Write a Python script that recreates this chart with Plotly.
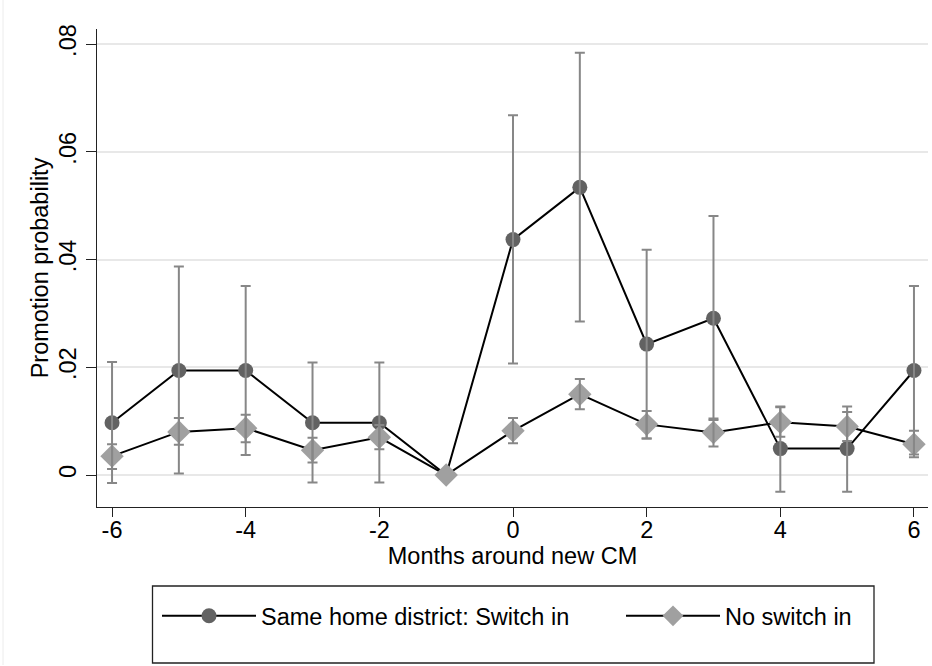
import plotly.graph_objects as go

months = [-6, -5, -4, -3, -2, -1, 0, 1, 2, 3, 4, 5, 6]

same = [0.0097, 0.0194, 0.0194, 0.0097, 0.0097, 0.0, 0.0437, 0.0534, 0.0243, 0.0291, 0.0049, 0.0049, 0.0194]
same_lo = [-0.0015, 0.0003, 0.0037, -0.0014, -0.0014, None, 0.0207, 0.0285, 0.0068, 0.0102, -0.0031, -0.0031, 0.0038]
same_hi = [0.0210, 0.0387, 0.0351, 0.0209, 0.0209, None, 0.0668, 0.0784, 0.0418, 0.0481, 0.0127, 0.0127, 0.0351]

noswitch = [0.0035, 0.0080, 0.0087, 0.0046, 0.0070, 0.0, 0.0082, 0.0150, 0.0094, 0.0079, 0.0098, 0.0090, 0.0057]
no_lo = [0.0011, 0.0056, 0.0061, 0.0023, 0.0048, None, 0.0059, 0.0122, 0.0068, 0.0053, 0.0071, 0.0063, 0.0033]
no_hi = [0.0057, 0.0106, 0.0112, 0.0069, 0.0093, None, 0.0106, 0.0178, 0.0119, 0.0105, 0.0126, 0.0117, 0.0082]

x_ticks = [-6, -4, -2, 0, 2, 4, 6]
y_ticks = [0, 0.02, 0.04, 0.06, 0.08]
y_tick_labels = ["0", ".02", ".04", ".06", ".08"]

FONT = "Liberation Sans, Arial, sans-serif"
FS = 23.5

fig = go.Figure()

fig.add_trace(go.Scatter(
    x=months, y=same, mode="lines+markers",
    name="Same home district: Switch in",
    line=dict(color="black", width=2),
    marker=dict(symbol="circle", size=15, color="#626262"),
    legend="legend",
))
fig.add_trace(go.Scatter(
    x=months, y=noswitch, mode="lines+markers",
    name="No switch in",
    line=dict(color="black", width=2),
    marker=dict(symbol="diamond", size=18, color="#a0a0a0"),
    legend="legend2",
))


def err_trace(center, lo, hi):
    ys, plus, minus = [], [], []
    for c, l, h in zip(center, lo, hi):
        if l is None or h is None:
            ys.append(None)
            plus.append(0)
            minus.append(0)
        else:
            ys.append(c)
            plus.append(h - c)
            minus.append(c - l)
    return go.Scatter(
        x=months, y=ys, mode="markers",
        marker=dict(size=1, opacity=0),
        error_y=dict(type="data", array=plus, arrayminus=minus, symmetric=False,
                     color="#878787", thickness=2, width=5),
        showlegend=False, hoverinfo="skip",
    )


fig.add_trace(err_trace(same, same_lo, same_hi))
fig.add_trace(err_trace(noswitch, no_lo, no_hi))

W, H = 932, 666
L, R, T, B = 97, 4, 29, 159
pw, ph = W - L - R, H - T - B


def px_x(x):
    return (x - L) / pw


def px_y(y):
    return (H - B - y) / ph


fig.update_layout(
    width=W, height=H,
    margin=dict(l=L, r=R, t=T, b=B, pad=0, autoexpand=False),
    paper_bgcolor="white", plot_bgcolor="white",
    font=dict(family=FONT, size=FS, color="black"),
    xaxis=dict(
        range=[-6.225, 6.21], tickvals=x_ticks, ticktext=[str(v) for v in x_ticks],
        showgrid=False, zeroline=False, showline=True, linecolor="#222222", linewidth=1.3,
        ticks="outside", ticklen=9, tickwidth=1.3, tickcolor="#222222",
        tickfont=dict(family=FONT, size=FS), automargin=False, ticklabelstandoff=-7,
        title=dict(text="Months around new CM", font=dict(family=FONT, size=FS), standoff=0),
    ),
    yaxis=dict(
        range=[-0.00594, 0.0828], tickvals=y_ticks, ticktext=y_tick_labels,
        tickangle=-90,
        showgrid=True, gridcolor="#e8e8e8", gridwidth=1.5,
        zeroline=False, showline=True, linecolor="#222222", linewidth=1.3,
        ticks="outside", ticklen=10, tickwidth=1.3, tickcolor="#222222",
        tickfont=dict(family=FONT, size=FS), automargin=False,
        title=dict(text="Promotion probability", font=dict(family=FONT, size=FS), standoff=0),
    ),
    legend=dict(
        orientation="h", x=px_x(157), xanchor="left", y=px_y(616), yanchor="middle",
        bgcolor="rgba(0,0,0,0)", borderwidth=0, itemwidth=94,
        font=dict(family=FONT, size=FS),
    ),
    legend2=dict(
        orientation="h", x=px_x(621), xanchor="left", y=px_y(616), yanchor="middle",
        bgcolor="rgba(0,0,0,0)", borderwidth=0, itemwidth=94,
        font=dict(family=FONT, size=FS),
    ),
    shapes=[
        dict(type="rect", xref="paper", yref="paper",
             x0=px_x(152.5), x1=px_x(874), y0=px_y(663), y1=px_y(586),
             line=dict(color="#222222", width=1.3), fillcolor="rgba(0,0,0,0)", layer="above"),
        dict(type="line", xref="paper", yref="paper",
             x0=px_x(3), x1=px_x(3), y0=px_y(0), y1=px_y(665),
             line=dict(color="#ececec", width=1)),
    ],
)

fig.write_html(
    "out.html",
    config={"displayModeBar": False},
    post_script="document.body.style.margin='0';document.body.style.overflow='hidden';",
)
